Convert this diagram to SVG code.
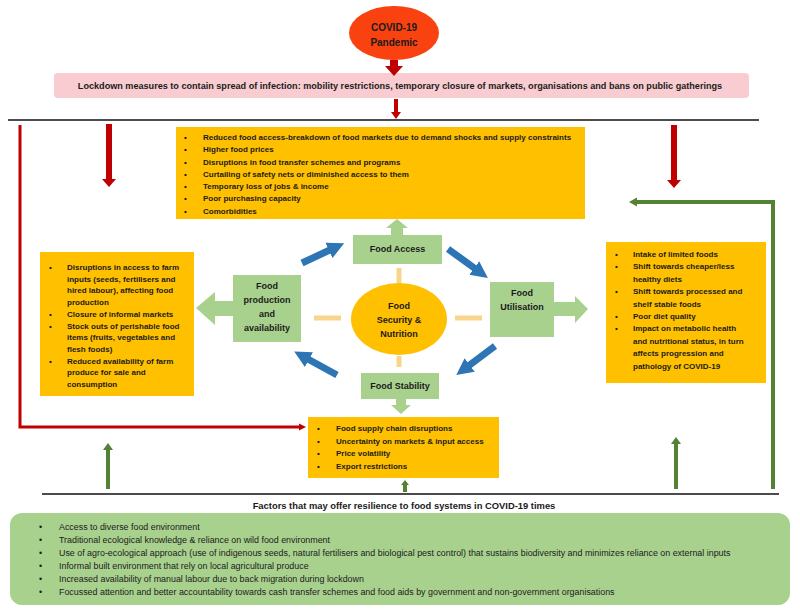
<svg xmlns="http://www.w3.org/2000/svg" width="800" height="611" viewBox="0 0 800 611">
<defs>
<style>
text{font-family:"Liberation Sans",Arial,sans-serif;fill:#1b1b1b}
.b{font-weight:bold}
.ob{fill:#FFC000}
.gb{fill:#A9D18E}
.lst{font-weight:bold;font-size:8px}
.bl{font-size:8.9px}
.nd{font-weight:bold;font-size:9px;text-anchor:middle}
.red{stroke:#C00000;fill:none}
.dg{stroke:#548235;fill:none}
.blu{stroke:#2E75B6;stroke-width:7;fill:none;marker-end:url(#bh)}
.dash{stroke:#F8D58C;stroke-width:5}
</style>
<marker id="bh" viewBox="0 0 10 10" refX="2" refY="5" markerWidth="2.4" markerHeight="2.6" orient="auto" markerUnits="strokeWidth">
<path d="M0,0L10,5L0,10Z" fill="#2E75B6"/>
</marker>
</defs>
<rect width="800" height="611" fill="#fff"/>

<g id="covid">
<ellipse cx="394" cy="33" rx="45" ry="27" fill="#F9420F"/>
<text x="394" y="30.5" class="b" font-size="10" text-anchor="middle">COVID-19</text>
<text x="394" y="45.5" class="b" font-size="10" text-anchor="middle">Pandemic</text>
</g>

<g id="lockdown">
<rect x="54" y="73" width="695" height="25" rx="4" fill="#F8CCD0"/>
<text x="400" y="89" class="b" font-size="9.1" text-anchor="middle">Lockdown measures to contain spread of infection: mobility restrictions, temporary closure of markets, organisations and bans on public gatherings</text>
</g>

<g id="access-impacts">
<rect x="176" y="127" width="409" height="92" class="ob"/>
<g class="lst">
<text x="184" y="140">•</text><text x="203" y="140">Reduced food access-breakdown of food markets due to demand shocks and supply constraints</text>
<text x="184" y="152.3">•</text><text x="203" y="152.3">Higher food prices</text>
<text x="184" y="164.5">•</text><text x="203" y="164.5">Disruptions in food transfer schemes and programs</text>
<text x="184" y="176.8">•</text><text x="203" y="176.8">Curtailing of safety nets or diminished access to them</text>
<text x="184" y="189">•</text><text x="203" y="189">Temporary loss of jobs &amp; income</text>
<text x="184" y="201.3">•</text><text x="203" y="201.3">Poor purchasing capacity</text>
<text x="184" y="213.5">•</text><text x="203" y="213.5">Comorbidities</text>
</g>
</g>

<g id="production-impacts">
<rect x="40" y="252" width="154" height="144" class="ob"/>
<g class="lst">
<text x="49" y="270">•</text><text x="67" y="270">Disruptions in access to farm</text>
<text x="67" y="281.7">inputs (seeds, fertilisers and</text>
<text x="67" y="293.4">hired labour), affecting food</text>
<text x="67" y="305.1">production</text>
<text x="49" y="316.8">•</text><text x="67" y="316.8">Closure of informal markets</text>
<text x="49" y="328.5">•</text><text x="67" y="328.5">Stock outs of perishable food</text>
<text x="67" y="340.2">items (fruits, vegetables and</text>
<text x="67" y="351.9">flesh foods)</text>
<text x="49" y="363.6">•</text><text x="67" y="363.6">Reduced availability of farm</text>
<text x="67" y="375.3">produce for sale and</text>
<text x="67" y="387">consumption</text>
</g>
</g>

<g id="utilisation-impacts">
<rect x="606" y="242" width="160" height="141" class="ob"/>
<g class="lst" font-size="8.3">
<text x="615" y="257">•</text><text x="633" y="257">Intake of limited foods</text>
<text x="615" y="269.4">•</text><text x="633" y="269.4">Shift towards cheaper/less</text>
<text x="633" y="281.8">healthy diets</text>
<text x="615" y="294.2">•</text><text x="633" y="294.2">Shift towards processed and</text>
<text x="633" y="306.6">shelf stable foods</text>
<text x="615" y="319">•</text><text x="633" y="319">Poor diet quality</text>
<text x="615" y="331.4">•</text><text x="633" y="331.4">Impact on metabolic health</text>
<text x="633" y="343.8">and nutritional status, in turn</text>
<text x="633" y="356.2">affects progression and</text>
<text x="633" y="368.6">pathology of COVID-19</text>
</g>
</g>

<g id="stability-impacts">
<rect x="308" y="417" width="191" height="61" class="ob"/>
<g class="lst" font-size="8.2">
<text x="317" y="431">•</text><text x="336" y="431">Food supply chain disruptions</text>
<text x="317" y="443.6">•</text><text x="336" y="443.6">Uncertainty on markets &amp; input access</text>
<text x="317" y="456.2">•</text><text x="336" y="456.2">Price volatility</text>
<text x="317" y="468.8">•</text><text x="336" y="468.8">Export restrictions</text>
</g>
</g>

<g id="food-access">
<path class="gb" d="M397,219L408,228L403,228L403,236L391,236L391,228L386,228Z"/>
<rect x="353" y="235" width="89" height="29" class="gb"/>
<text x="397.5" y="252" class="nd">Food Access</text>
</g>

<g id="food-production">
<path class="gb" d="M196,308L215,292L215,301L234,301L234,316L215,316L215,325Z"/>
<rect x="233" y="275" width="68" height="67" class="gb"/>
<text x="267" y="289" class="nd">Food</text>
<text x="267" y="303" class="nd">production</text>
<text x="267" y="317" class="nd">and</text>
<text x="267" y="331" class="nd">availability</text>
</g>

<g id="food-utilisation">
<path class="gb" d="M588,309L575,296L575,302L553,302L553,316L575,316L575,323Z"/>
<rect x="490" y="282" width="64" height="55" class="gb"/>
<text x="522" y="296" class="nd">Food</text>
<text x="522" y="310" class="nd">Utilisation</text>
</g>

<g id="food-stability">
<path class="gb" d="M401,414L411,405L406,405L406,398L396,398L396,405L391,405Z"/>
<rect x="361" y="373" width="78" height="26" class="gb"/>
<text x="400" y="389" class="nd">Food Stability</text>
</g>

<g id="fsn">
<ellipse cx="399" cy="319" rx="48" ry="36" fill="#FFC000"/>
<text x="399" y="309" class="nd">Food</text>
<text x="399" y="323" class="nd">Security &amp;</text>
<text x="399" y="337" class="nd">Nutrition</text>
</g>

<g id="resilience">
<text x="404" y="508.5" class="b" font-size="9.4" text-anchor="middle">Factors that may offer resilience to food systems in COVID-19 times</text>
<rect x="10" y="513" width="780" height="92" rx="12" class="gb"/>
<g class="bl">
<text x="39" y="530">•</text><text x="59" y="530">Access to diverse food environment</text>
<text x="39" y="542.9">•</text><text x="59" y="542.9">Traditional ecological knowledge &amp; reliance on wild food environment</text>
<text x="39" y="555.8">•</text><text x="59" y="555.8">Use of agro-ecological approach (use of indigenous seeds, natural fertilisers and biological pest control) that sustains biodiversity and minimizes reliance on external inputs</text>
<text x="39" y="568.7">•</text><text x="59" y="568.7">Informal built environment that rely on local agricultural produce</text>
<text x="39" y="581.6">•</text><text x="59" y="581.6">Increased availability of manual labour due to back migration during lockdown</text>
<text x="39" y="594.5">•</text><text x="59" y="594.5">Focussed attention and better accountability towards cash transfer schemes and food aids by government and non-government organisations</text>
</g>
</g>

<g id="connectors">
<line x1="8" y1="120" x2="759" y2="120" stroke="#111" stroke-width="1.6"/>
<line x1="42" y1="494" x2="779" y2="494" stroke="#111" stroke-width="1.6"/>
<path d="M390,60H398V66H403L394,76L385,66H390Z" fill="#C00000"/>
<path d="M394,99H398V112H401L396,119L391,112H394Z" fill="#C00000"/>
<path d="M106,124H112V179H116L109,187L102,179H106Z" fill="#C00000"/>
<path d="M671,125H677V180H681L674,188L667,180H671Z" fill="#C00000"/>
<path class="red" stroke-width="3" d="M20,125V427H300"/>
<path d="M299,423.5L306,427L299,430.5Z" fill="#C00000"/>
<path class="dg" stroke-width="4" d="M773,489V202H636"/>
<path d="M637,197.5L629,202L637,206.5Z" fill="#548235"/>
<path d="M106,489V450H103L108,443L113,450H110V489Z" fill="#548235"/>
<path d="M674,489V444H671L676,437L681,444H678V489Z" fill="#548235"/>
<path d="M403,492V485H401L405,480L409,485H407V492Z" fill="#548235"/>
<line x1="302" y1="263" x2="332" y2="249" class="blu"/>
<line x1="448" y1="249" x2="477" y2="270" class="blu"/>
<line x1="495" y1="346" x2="467" y2="367" class="blu"/>
<line x1="337" y1="375" x2="306" y2="358" class="blu"/>
<line x1="399" y1="268" x2="399" y2="283" class="dash"/>
<line x1="399" y1="356" x2="399" y2="367" class="dash"/>
<line x1="314" y1="318" x2="341" y2="318" class="dash"/>
<line x1="455" y1="318" x2="482" y2="318" class="dash"/>
</g>
</svg>
